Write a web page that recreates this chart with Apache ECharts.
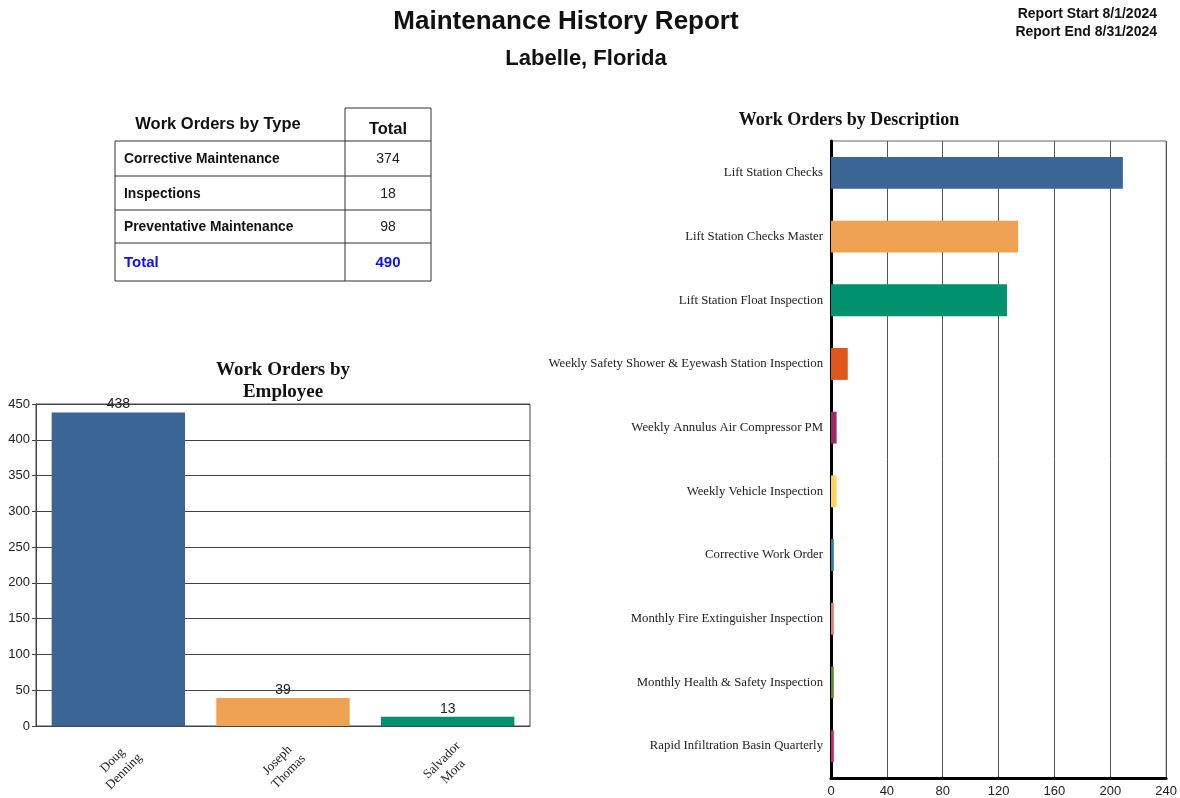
<!DOCTYPE html>
<html><head><meta charset="utf-8">
<script src="https://cdn.jsdelivr.net/npm/echarts@6/dist/echarts.min.js"></script>
<style>html,body{margin:0;padding:0;background:#fff}#c{width:1180px;height:798px}</style>
</head><body><div id="c"></div>
<script>
const typeLabels = ['Corrective Maintenance', 'Inspections', 'Preventative Maintenance'];
const typeTotals = [374, 18, 98];
const typeGrandTotal = 490;

const employees = ['Doug\nDenning', 'Joseph\nThomas', 'Salvador\nMora'];
const employeeCounts = [438, 39, 13];
const employeeColors = ['#3a6594', '#efa253', '#00916e'];

const descriptions = ['Lift Station Checks', 'Lift Station Checks Master', 'Lift Station Float Inspection',
  'Weekly Safety Shower & Eyewash Station Inspection', 'Weekly Annulus Air Compressor PM', 'Weekly Vehicle Inspection',
  'Corrective Work Order', 'Monthly Fire Extinguisher Inspection', 'Monthly Health & Safety Inspection',
  'Rapid Infiltration Basin Quarterly'];
const descriptionCounts = [209, 134, 126, 12, 4, 4, 2, 2, 2, 2];
const descriptionColors = ['#3a6594', '#efa253', '#00916e', '#e0561d', '#9e2a64', '#fdd35a', '#2a7f9e', '#e07a6a', '#5b8b2a', '#d1245e'];

const empTicks = [0, 450, 50];
const descTicks = [0, 240, 40];

const chart = echarts.init(document.getElementById('c'));
const sans = 'Liberation Sans, Arial, sans-serif';
const serif = 'Liberation Serif, Times New Roman, serif';

// table graphics
const tbl = [];
const x0 = 115, x1 = 345, x2 = 431;
const rowsY = [141, 176, 210, 243, 281];
const lc = '#333';
function line(xa, ya, xb, yb) { tbl.push({type:'line', shape:{x1:xa,y1:ya,x2:xb,y2:yb}, style:{stroke:lc, lineWidth:1}}); }
line(x1, 108, x2, 108);
line(x1, 108, x1, 281);
line(x2, 108, x2, 281);
rowsY.forEach(y => line(x0, y, x2, y));
line(x0, 141, x0, 281);
tbl.push({type:'text', x:218, y:124, style:{text:'Work Orders by Type', font:'bold 16.5px ' + sans, fill:'#111', align:'center', verticalAlign:'middle'}});
tbl.push({type:'text', x:(x1 + x2) / 2, y:129, style:{text:'Total', font:'bold 16.5px ' + sans, fill:'#111', align:'center', verticalAlign:'middle'}});
typeLabels.forEach((t, i) => {
  const cy = (rowsY[i] + rowsY[i + 1]) / 2 + 1;
  tbl.push({type:'text', x:x0 + 9, y:cy, style:{text:t, font:'bold 13.8px ' + sans, fill:'#111', verticalAlign:'middle'}});
  tbl.push({type:'text', x:(x1 + x2) / 2, y:cy, style:{text:String(typeTotals[i]), font:'14px ' + sans, fill:'#222', align:'center', verticalAlign:'middle'}});
});
const ty = (rowsY[3] + rowsY[4]) / 2 + 1;
tbl.push({type:'text', x:x0 + 9, y:ty, style:{text:'Total', font:'bold 15px ' + sans, fill:'#1010ee', verticalAlign:'middle'}});
tbl.push({type:'text', x:(x1 + x2) / 2, y:ty, style:{text:String(typeGrandTotal), font:'bold 15px ' + sans, fill:'#1010ee', align:'center', verticalAlign:'middle'}});

const tp = 0;
chart.setOption({
  backgroundColor: '#fff',
  animation: false,
  title: [
    {text:'Maintenance History Report', left:566, top:9, padding:tp, textAlign:'center', textStyle:{fontFamily:sans, fontSize:26, fontWeight:'bold', color:'#111'}},
    {text:'Labelle, Florida', left:586, top:48, padding:tp, textAlign:'center', textStyle:{fontFamily:sans, fontSize:22, fontWeight:'bold', color:'#111'}},
    {text:'Report Start 8/1/2024', left:1157, top:7, padding:tp, textAlign:'right', textStyle:{fontFamily:sans, fontSize:14, fontWeight:'bold', color:'#111'}},
    {text:'Report End 8/31/2024', left:1157, top:25, padding:tp, textAlign:'right', textStyle:{fontFamily:sans, fontSize:14, fontWeight:'bold', color:'#111'}},
    {text:'Work Orders by\nEmployee', left:283, top:359, padding:tp, textAlign:'center', textStyle:{fontFamily:serif, fontSize:19, fontWeight:'bold', color:'#111', lineHeight:22, align:'center'}},
    {text:'Work Orders by Description', left:849, top:111, padding:tp, textAlign:'center', textStyle:{fontFamily:serif, fontSize:18, fontWeight:'bold', color:'#111'}}
  ],
  graphic: tbl,
  grid: [
    {left:36, top:404, width:494, height:322, show:true, borderColor:'#444', borderWidth:1},
    {left:831, top:141, width:336, height:637, show:true, borderColor:'#666', borderWidth:1}
  ],
  xAxis: [
    {gridIndex:0, type:'category', data:employees,
      axisLine:{lineStyle:{color:'#444'}}, axisTick:{show:false},
      axisLabel:{rotate:45, align:'center', verticalAlign:'middle', fontFamily:serif, fontSize:13, color:'#222', margin:40, lineHeight:16}},
    {gridIndex:1, type:'value', min:descTicks[0], max:descTicks[1], interval:descTicks[2],
      axisLine:{show:true, onZero:false, lineStyle:{color:'#000', width:3}}, axisTick:{show:false},
      splitLine:{lineStyle:{color:'#555', width:1}},
      axisLabel:{fontFamily:sans, fontSize:13, color:'#222', margin:7}}
  ],
  yAxis: [
    {gridIndex:0, type:'value', min:empTicks[0], max:empTicks[1], interval:empTicks[2],
      axisLine:{show:true, lineStyle:{color:'#444'}}, axisTick:{show:true, length:4, lineStyle:{color:'#444'}},
      splitLine:{lineStyle:{color:'#444', width:1}},
      axisLabel:{fontFamily:sans, fontSize:13, color:'#222', margin:6}},
    {gridIndex:1, type:'category', data:descriptions, inverse:true,
      axisLine:{show:true, lineStyle:{color:'#000', width:3}}, axisTick:{show:false},
      axisLabel:{fontFamily:serif, fontSize:12.75, color:'#222', margin:8}}
  ],
  series: [
    {type:'bar', xAxisIndex:0, yAxisIndex:0, barCategoryGap:'19%',
      data: employeeCounts.map((v, i) => ({value:v, itemStyle:{color:employeeColors[i]}})),
      label:{show:true, position:'top', distance:1, fontFamily:sans, fontSize:14, color:'#222'}},
    {type:'bar', xAxisIndex:1, yAxisIndex:1, barCategoryGap:'50%',
      data: descriptionCounts.map((v, i) => ({value:v, itemStyle:{color:descriptionColors[i]}}))}
  ]
});
</script></body></html>
